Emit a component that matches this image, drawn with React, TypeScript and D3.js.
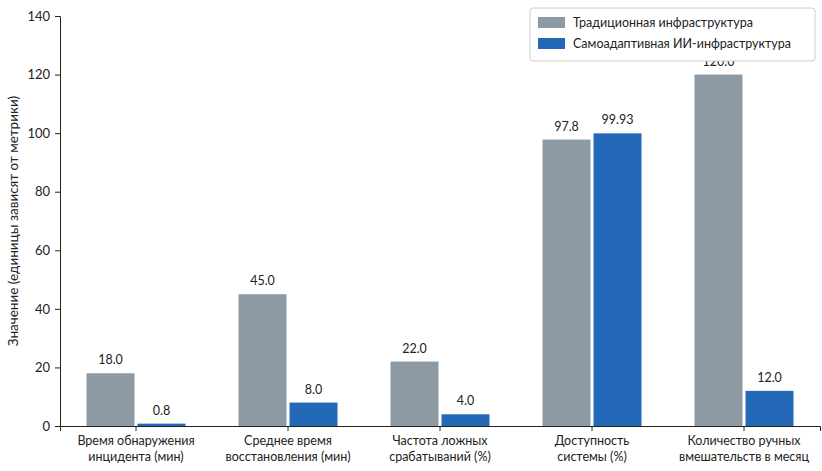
import { useEffect, useRef } from "react";
import * as d3 from "d3";

const categories = [
  ["Время обнаружения", "инцидента (мин)"],
  ["Среднее время", "восстановления (мин)"],
  ["Частота ложных", "срабатываний (%)"],
  ["Доступность", "системы (%)"],
  ["Количество ручных", "вмешательств в месяц"],
];
const traditional = [18.0, 45.0, 22.0, 97.8, 120.0];
const adaptive = [0.8, 8.0, 4.0, 99.93, 12.0];
const tradLabels = ["18.0", "45.0", "22.0", "97.8", "120.0"];
const adaptLabels = ["0.8", "8.0", "4.0", "99.93", "12.0"];
const seriesNames = ["Традиционная инфраструктура", "Самоадаптивная ИИ-инфраструктура"];
const yTicks = [0, 20, 40, 60, 80, 100, 120, 140];

export default function App() {
  const ref = useRef<SVGSVGElement>(null);
  const width = 822, height = 471;
  const ml = 60, mr = 2, mt = 16, mb = 45;

  useEffect(() => {
    const svg = d3.select(ref.current);
    svg.selectAll("*").remove();
    const font = "Lato, 'DejaVu Sans', sans-serif";
    const x = d3.scaleBand().domain(categories.map((_, i) => String(i))).range([ml, width - mr]);
    const y = d3.scaleLinear().domain([0, 140]).range([height - mb, mt]);
    const colors = ["#8c9aa6", "#2468b8"];
    const bw = 48, gap = 3;

    const yAxis = svg.append("g").attr("transform", `translate(${ml},0)`)
      .call(d3.axisLeft(y).tickValues(yTicks).tickSize(5).tickPadding(5));
    yAxis.selectAll("text").style("font-size", "13px").style("font-family", font).attr("fill", "#222");
    yAxis.selectAll("line,path").attr("stroke", "#222");

    const xAxis = svg.append("g").attr("transform", `translate(0,${height - mb})`)
      .call(d3.axisBottom(x).tickSize(5).tickFormat(() => ""));
    xAxis.selectAll("line,path").attr("stroke", "#222");
    xAxis.selectAll("text").remove();

    categories.forEach((lines, i) => {
      const cx = x(String(i))! + x.bandwidth() / 2;
      lines.forEach((line, j) =>
        svg.append("text").attr("x", cx).attr("y", height - mb + 19 + j * 16)
          .attr("text-anchor", "middle").style("font-size", "12.5px").style("font-family", font)
          .attr("fill", "#222").text(line));
    });

    [traditional, adaptive].forEach((vals, s) => {
      const labels = s === 0 ? tradLabels : adaptLabels;
      vals.forEach((v, i) => {
        const cx = x(String(i))! + x.bandwidth() / 2;
        const bx = s === 0 ? cx - gap / 2 - bw : cx + gap / 2;
        svg.append("rect").attr("x", bx).attr("width", bw)
          .attr("y", y(v)).attr("height", y(0) - y(v)).attr("fill", colors[s]);
        svg.append("text").attr("x", bx + bw / 2).attr("y", y(v) - 9)
          .attr("text-anchor", "middle").style("font-size", "12.5px").style("font-family", font)
          .attr("fill", "#222").text(labels[i]);
      });
    });

    svg.append("text").attr("transform", `translate(18,${(mt + height - mb) / 2}) rotate(-90)`)
      .attr("text-anchor", "middle").style("font-size", "13.5px").style("font-family", font)
      .attr("fill", "#222").text("Значение (единицы зависят от метрики)");

    const lg = svg.append("g").attr("transform", "translate(530,8)");
    lg.append("rect").attr("width", 285).attr("height", 53).attr("rx", 3)
      .attr("fill", "white").attr("stroke", "#ccc");
    seriesNames.forEach((n, i) => {
      lg.append("rect").attr("x", 8).attr("y", 9 + i * 21).attr("width", 27).attr("height", 11).attr("fill", colors[i]);
      lg.append("text").attr("x", 43).attr("y", 19 + i * 21).style("font-size", "12.5px")
        .style("font-family", font).attr("fill", "#222").text(n);
    });
  }, []);

  return <svg ref={ref} width={width} height={height} style={{ position: "absolute", left: 0, top: 0 }} />;
}
